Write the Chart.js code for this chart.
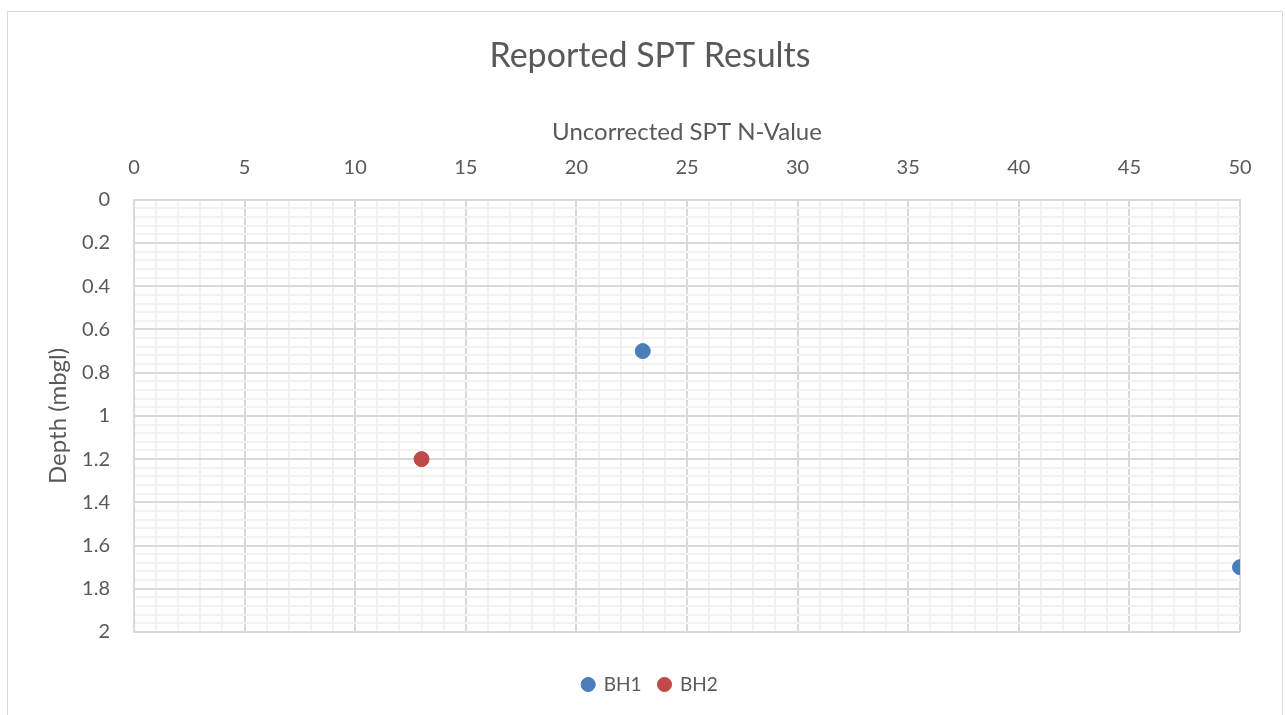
<!DOCTYPE html>
<html lang="en">
<head>
    <meta charset="UTF-8">
    <title>Reported SPT Results</title>
    <script src="https://cdn.jsdelivr.net/npm/chart.js"></script>
    <style>
        body { margin: 0; background: #fff; }
        #wrap { position: relative; width: 1285px; height: 715px; overflow: hidden; }
        #frame { position: absolute; left: 7px; top: 11px; width: 1274px; height: 760px; border: 1px solid #d9d9d9; pointer-events: none; }
        canvas { position: absolute; left: 0; top: 0; }
    </style>
</head>
<body>
<div id="wrap">
    <canvas id="sptChart" width="1285" height="715"></canvas>
    <div id="frame"></div>
</div>
<script>
    // data
    const bh1N = [23, 50];
    const bh1Depth = [0.7, 1.7];
    const bh2N = [13];
    const bh2Depth = [1.2];

    const nMin = 0, nMax = 50, nMajor = 5, nMinor = 1;
    const depthMin = 0, depthMax = 2, depthMajor = 0.2, depthMinor = 0.04;

    const txt = '#595959';
    const font = 'Lato, "Open Sans", sans-serif';

    function isMajor(v, step) {
        return Math.abs(v / step - Math.round(v / step)) < 1e-6;
    }

    const points = (xs, ys) => xs.map((x, i) => ({ x: x, y: ys[i] }));

    new Chart(document.getElementById('sptChart'), {
        type: 'scatter',
        data: {
            datasets: [
                { label: 'BH1', data: points(bh1N, bh1Depth), backgroundColor: '#4a7ebb', borderColor: '#4a7ebb', pointRadius: 7.5, pointHoverRadius: 7.5 },
                { label: 'BH2', data: points(bh2N, bh2Depth), backgroundColor: '#be4b48', borderColor: '#be4b48', pointRadius: 7.5, pointHoverRadius: 7.5 }
            ]
        },
        options: {
            responsive: false,
            animation: false,
            layout: { padding: { left: 30, right: 15, top: 0, bottom: 11 } },
            plugins: {
                title: {
                    display: true, text: 'Reported SPT Results', color: txt,
                    font: { family: font, size: 34, weight: 'normal' },
                    padding: { top: 36, bottom: 18 }
                },
                legend: {
                    position: 'bottom',
                    // empty title only adds space between plot and legend
                    title: { display: true, text: '', font: { size: 10 }, padding: { top: 14, bottom: 0 } },
                    labels: {
                        usePointStyle: true, pointStyle: 'circle', boxWidth: 12, boxHeight: 10,
                        color: txt, font: { family: font, size: 19 }, padding: 17
                    }
                },
                tooltip: { enabled: false }
            },
            scales: {
                x: {
                    type: 'linear', position: 'top', min: nMin, max: nMax,
                    afterFit: s => { s.height = 105; },
                    title: { display: true, text: 'Uncorrected SPT N-Value', color: txt, font: { family: font, size: 24 }, padding: { top: 23, bottom: 0 } },
                    ticks: {
                        stepSize: nMinor, autoSkip: false, maxRotation: 0, color: txt, padding: 20,
                        font: { family: font, size: 20 },
                        callback: v => isMajor(v, nMajor) ? String(v) : ''
                    },
                    grid: {
                        drawTicks: false, lineWidth: 2,
                        color: c => isMajor(c.tick.value, nMajor) ? '#d9d9d9' : '#f2f2f2'
                    },
                    border: { color: '#d9d9d9', width: 2 }
                },
                y: {
                    type: 'linear', reverse: true, min: depthMin, max: depthMax,
                    afterFit: s => { s.width = 104; },
                    title: { display: true, text: 'Depth (mbgl)', color: txt, font: { family: font, size: 24 }, padding: { top: 14, bottom: 0 } },
                    ticks: {
                        stepSize: depthMinor, autoSkip: false, color: txt, padding: 24,
                        font: { family: font, size: 20 },
                        callback: v => isMajor(v, depthMajor) ? String(Number(v.toFixed(1))) : ''
                    },
                    grid: {
                        drawTicks: false, lineWidth: 2,
                        color: c => isMajor(c.tick.value, depthMajor) ? '#d9d9d9' : '#f2f2f2'
                    },
                    border: { color: '#d9d9d9', width: 2 }
                },
                // empty spacer on the right so the legend sits where Excel puts it
                spacer: {
                    type: 'linear', position: 'right', display: true,
                    afterFit: s => { s.width = 30; },
                    ticks: { display: false }, grid: { display: false }, border: { display: false }
                }
            }
        }
    });
</script>
</body>
</html>
